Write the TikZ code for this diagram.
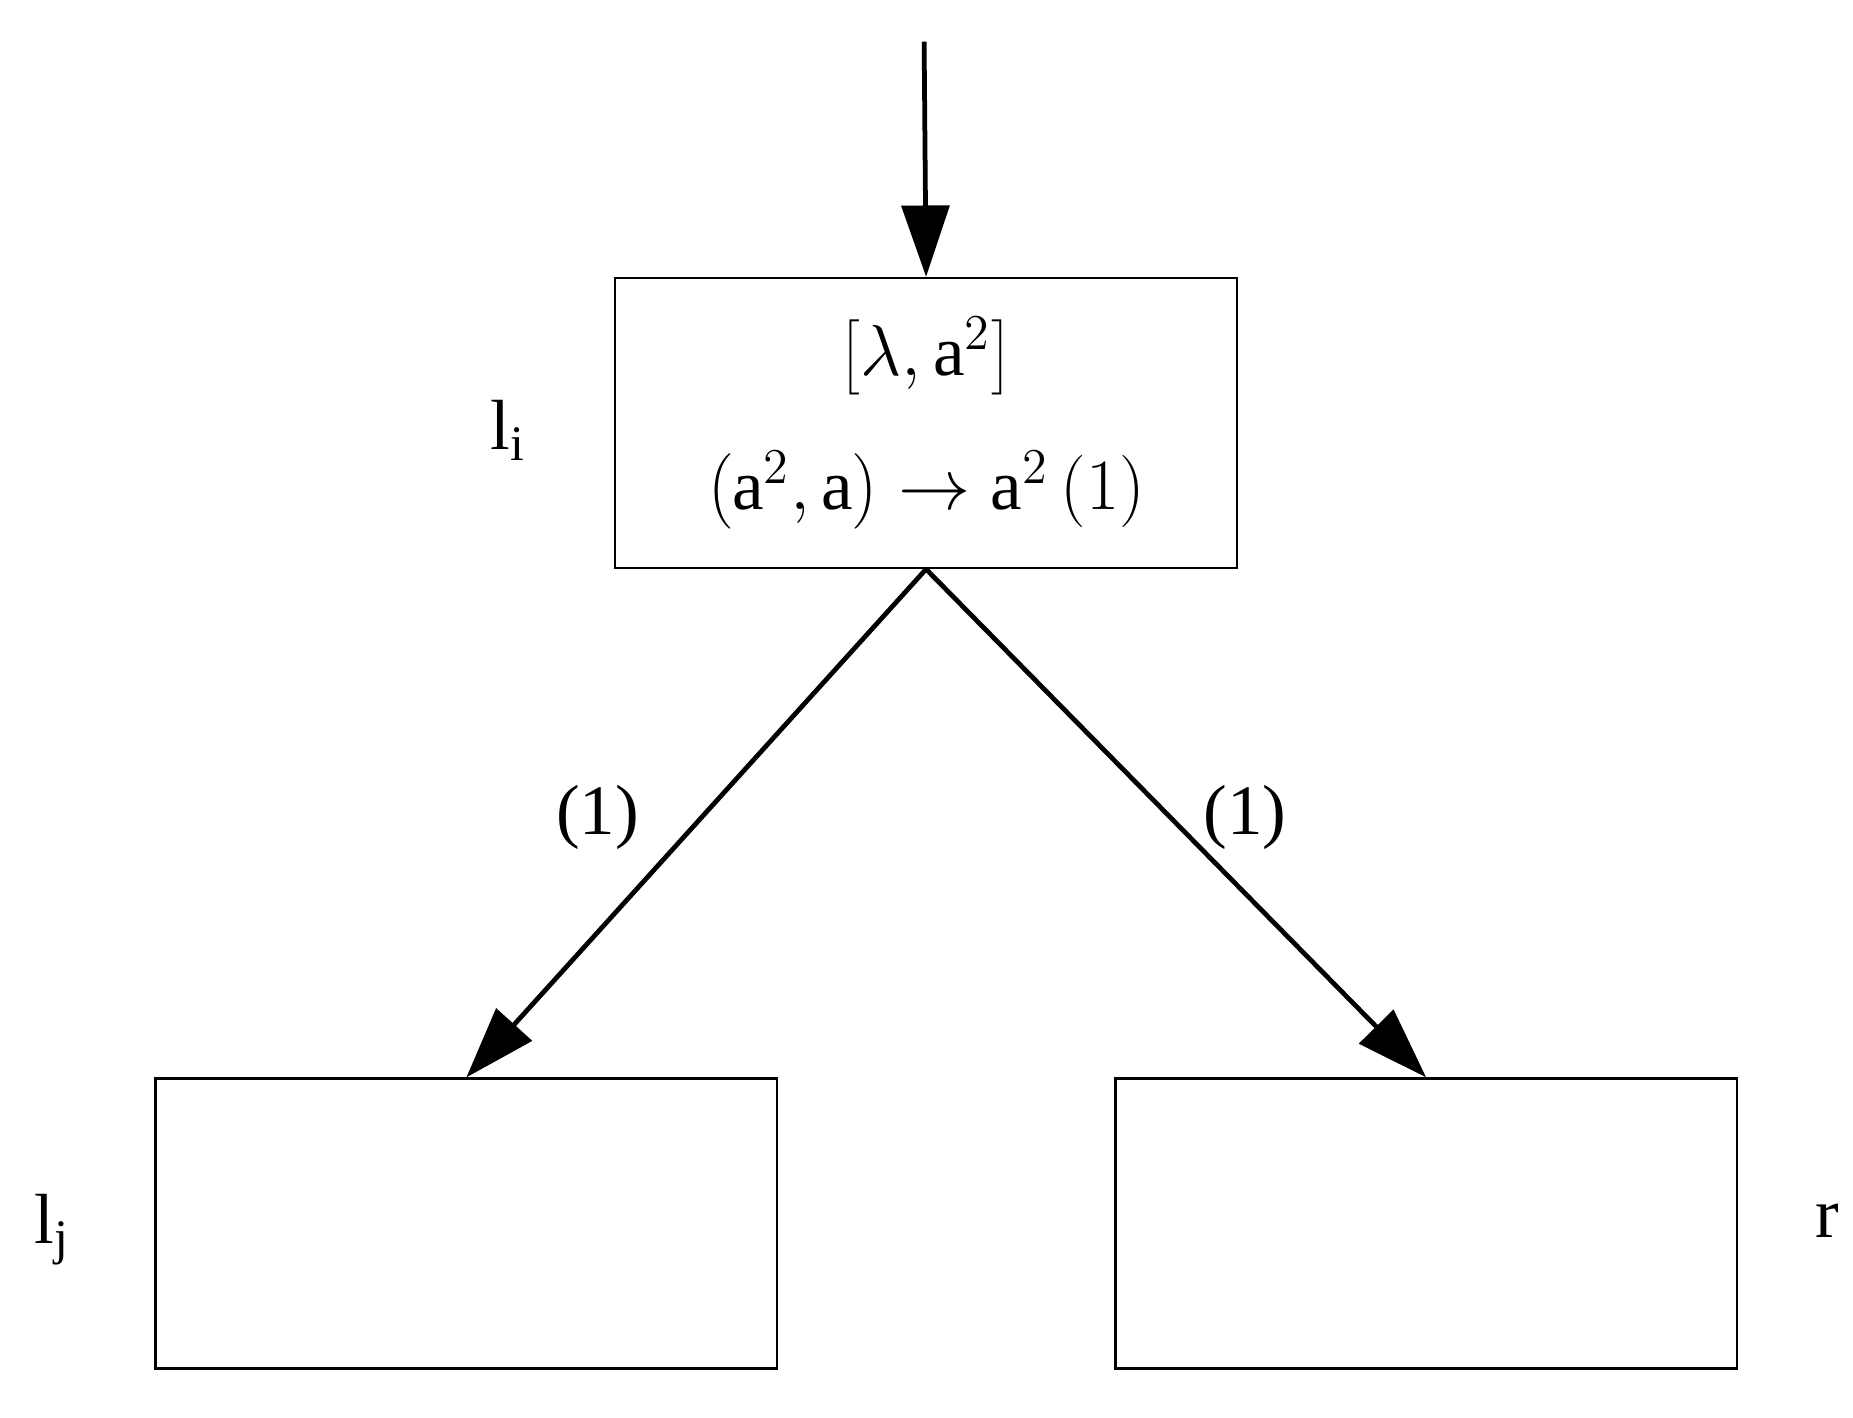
\documentclass[tikz,border=0pt]{standalone}
\usepackage{fontspec}
\setmainfont{Liberation Serif}
\setmathrm{Liberation Serif}
\usetikzlibrary{arrows.meta}
\begin{document}
\begin{tikzpicture}[x=0.01cm,y=-0.01cm,
  box/.style={draw,line width=0.02cm,minimum width=5.23cm,minimum height=2.44cm,anchor=north west,inner sep=0},
  arr/.style={line width=0.04cm,-{Triangle[length=0.6cm,width=0.4cm]}},
  lab/.style={font=\fontsize{17}{20}\selectfont}]
\useasboundingbox (0,0) rectangle (1560,1193);
\node[box,align=center,font=\fontsize{17}{30}\selectfont] (top) at (517,233) {$\left[\lambda,\mathrm{a}^{2}\right]$\\[2pt] $\left(\mathrm{a}^{2},\mathrm{a}\right)\rightarrow\mathrm{a}^{2}\,(1)$};
\node[box] (left) at (130,907) {};
\node[box] (right) at (938,907) {};
\coordinate (in) at (778,35);
\draw[arr] (in) -- (top.north);
\draw[arr] (top.south) -- (left.north);
\draw[arr] (top.south) -- (right.north);
\node[lab] (li) at (428,362) {$\mathrm{l}_{\mathrm{i}}$};
\node[lab] (lj) at (44,1035) {$\mathrm{l}_{\mathrm{j}}$};
\node[lab] (r) at (1538,1028) {r};
\node[lab] (c1) at (503,688) {(1)};
\node[lab] (c2) at (1048,688) {(1)};
\end{tikzpicture}
\end{document}
